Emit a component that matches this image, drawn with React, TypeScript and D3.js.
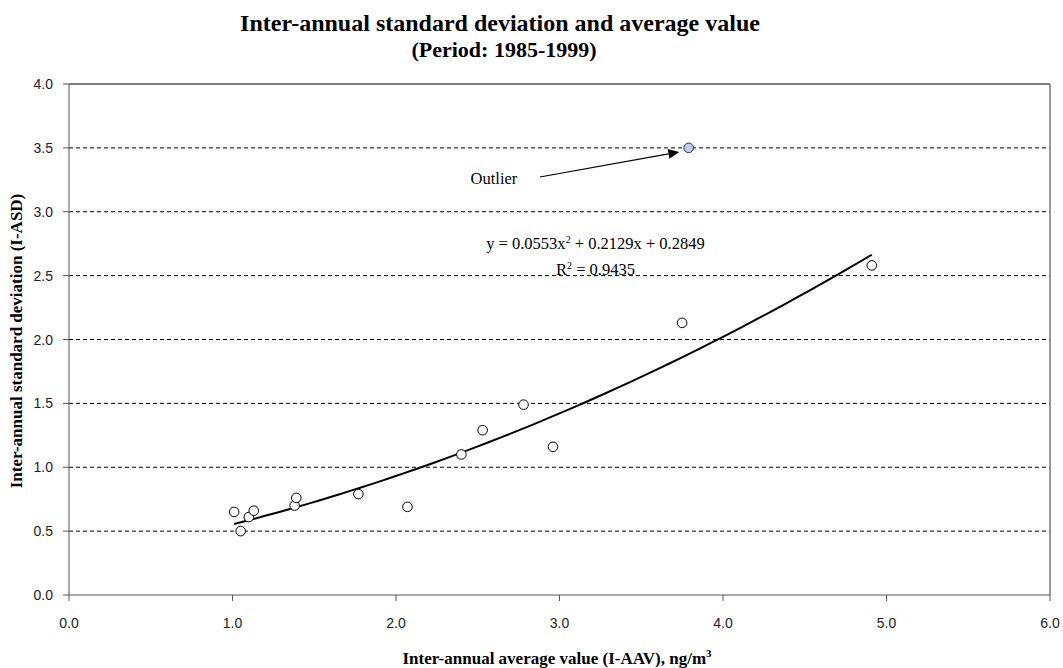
import React from "react";
import { scaleLinear, line, range } from "d3";

// I-AAV (x) and I-ASD (y)
const avgValues = [1.01, 1.05, 1.1, 1.13, 1.38, 1.39, 1.77, 2.07, 2.4, 2.53, 2.78, 2.96, 3.75, 4.91];
const sdValues = [0.65, 0.5, 0.61, 0.66, 0.7, 0.76, 0.79, 0.69, 1.1, 1.29, 1.49, 1.16, 2.13, 2.58];
const outlier = { x: 3.79, y: 3.5 };

// second-order polynomial trend line as printed on the chart
const trendCoef = [0.0553, 0.2129, 0.2849];

const xTicks = [0, 1, 2, 3, 4, 5, 6];
const yTicks = [0, 0.5, 1, 1.5, 2, 2.5, 3, 3.5, 4];

const W = 1063;
const H = 668;
const left = 69;
const right = 1050;
const top = 84;
const bottom = 595;

const serif = "'Liberation Serif', 'Times New Roman', serif";
const sans = "'Liberation Sans', Arial, sans-serif";

export default function App() {
  const x = scaleLinear().domain([0, 6]).range([left, right]);
  const y = scaleLinear().domain([0, 4]).range([bottom, top]);

  const xMin = Math.min(...avgValues);
  const xMax = Math.max(...avgValues);
  const trendPts = range(0, 61).map((i) => {
    const xv = xMin + ((xMax - xMin) * i) / 60;
    return [xv, trendCoef[0] * xv * xv + trendCoef[1] * xv + trendCoef[2]] as [number, number];
  });
  const trendPath = line<[number, number]>()
    .x((d) => x(d[0]))
    .y((d) => y(d[1]))(trendPts);

  // arrow for the outlier note
  const ax1 = x(2.88), ay1 = y(3.272);
  const ax2 = x(3.733), ay2 = y(3.468);
  const ang = Math.atan2(ay2 - ay1, ax2 - ax1);
  const hl = 11, hw = 5;
  const bx = ax2 - hl * Math.cos(ang), by = ay2 - hl * Math.sin(ang);
  const head = `M${ax2},${ay2} L${bx + hw * Math.sin(ang)},${by - hw * Math.cos(ang)} L${bx - hw * Math.sin(ang)},${by + hw * Math.cos(ang)} Z`;

  return (
    <svg
      width={W}
      height={H}
      style={{ position: "absolute", left: 0, top: 0, background: "#fff" }}
    >
      {/* title */}
      <text x={500} y={31} textAnchor="middle" fontFamily={serif} fontWeight="bold" fontSize={24}>
        Inter-annual standard deviation and average value
      </text>
      <text x={504} y={57} textAnchor="middle" fontFamily={serif} fontWeight="bold" fontSize={22}>
        (Period: 1985-1999)
      </text>

      {/* grid lines */}
      {yTicks.filter((t) => t > 0 && t < 4).map((t) => (
        <line key={t} x1={left} x2={right} y1={y(t)} y2={y(t)} stroke="#000" strokeDasharray="4,3" />
      ))}

      {/* frame */}
      <line x1={left} x2={right} y1={top} y2={top} stroke="#000" />
      <line x1={right} x2={right} y1={top} y2={bottom} stroke="#777" strokeWidth={1.5} />
      <line x1={left} x2={left} y1={top} y2={bottom} stroke="#555" />
      <line x1={left} x2={right} y1={bottom} y2={bottom} stroke="#555" />

      {/* y axis */}
      {yTicks.map((t) => (
        <g key={t}>
          <line x1={left - 6} x2={left} y1={y(t)} y2={y(t)} stroke="#555" />
          <text x={left - 16} y={y(t) + 5} textAnchor="end" fontFamily={sans} fontSize={14} fill="#222">
            {t.toFixed(1)}
          </text>
        </g>
      ))}

      {/* x axis */}
      {xTicks.map((t) => (
        <g key={t}>
          <line x1={x(t)} x2={x(t)} y1={bottom} y2={bottom + 6} stroke="#555" />
          <text x={x(t)} y={y(0) + 33} textAnchor="middle" fontFamily={sans} fontSize={14} fill="#222">
            {t.toFixed(1)}
          </text>
        </g>
      ))}

      {/* axis titles */}
      <text
        transform={`translate(22, 341) rotate(-90)`}
        textAnchor="middle"
        fontFamily={serif}
        fontWeight="bold"
        fontSize={17}
      >
        Inter-annual standard deviation (I-ASD)
      </text>
      <text x={557} y={664} textAnchor="middle" fontFamily={serif} fontWeight="bold" fontSize={17}>
        Inter-annual average value (I-AAV), ng/m
        <tspan dy={-7} fontSize={11}>3</tspan>
      </text>

      {/* trend line */}
      <path d={trendPath ?? ""} fill="none" stroke="#000" strokeWidth={2} />

      {/* points */}
      {avgValues.map((v, i) => (
        <circle key={i} cx={x(v)} cy={y(sdValues[i])} r={4.8} fill="#fff" stroke="#000" strokeWidth={1} />
      ))}
      <circle cx={x(outlier.x)} cy={y(outlier.y)} r={4.8} fill="#c4c8f4" stroke="#333" strokeWidth={1} />

      {/* equation */}
      <text x={x(3.22)} y={y(2.708)} textAnchor="middle" fontFamily={serif} fontSize={16.5}>
        y = 0.0553x<tspan dy={-6} fontSize={10}>2</tspan>
        <tspan dy={6}> + 0.2129x + 0.2849</tspan>
      </text>
      <text x={x(3.22)} y={y(2.505)} textAnchor="middle" fontFamily={serif} fontSize={16.5}>
        R<tspan dy={-6} fontSize={10}>2</tspan>
        <tspan dy={6}> = 0.9435</tspan>
      </text>

      {/* outlier note */}
      <text x={x(2.456)} y={y(3.217)} fontFamily={serif} fontSize={16.5}>
        Outlier
      </text>
      <line x1={ax1} y1={ay1} x2={bx} y2={by} stroke="#000" strokeWidth={1.2} />
      <path d={head} fill="#000" />
    </svg>
  );
}
